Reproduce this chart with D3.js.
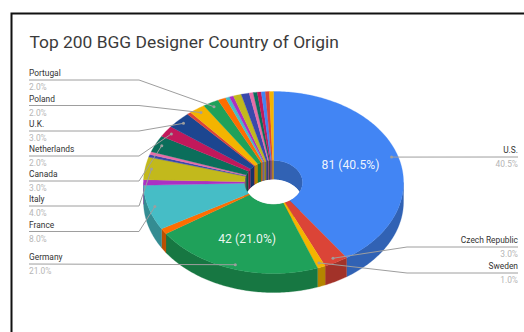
<!DOCTYPE html>
<html>
<head>
<meta charset="utf-8">
<script src="https://cdn.jsdelivr.net/npm/d3@7"></script>
<style>
html,body{margin:0;padding:0;background:#fff;}
svg{display:block;font-family:Roboto,sans-serif;}
</style>
</head>
<body>
<svg id="chart" width="524" height="332"></svg>
<script>
const chartTitle = "Top 200 BGG Designer Country of Origin";
const countries = ["U.S.","Czech Republic","Sweden","Germany","Denmark","France","Spain","Italy","Austria","Belgium","Canada","Netherlands","U.K.","Japan","Poland","Portugal","Australia","Finland","Greece","Israel","Norway","Russia","Switzerland","Hungary","Ukraine","Taiwan","China"];
const designers = [81,6,2,42,2,16,2,8,1,1,6,4,6,1,4,4,2,1,1,2,2,1,1,1,1,1,1];
const sliceColors = ["#4285f4","#db4437","#f4b400","#1fa15a","#ff6d00","#46bdc6","#ab30c4","#c2b91c","#3949ab","#e76ea8","#0b6e5b","#c2185b","#1c4690","#db4437","#f4b400","#1fa15a","#ff6d00","#46bdc6","#ab30c4","#c2b91c","#3949ab","#e76ea8","#0b6e5b","#c2185b","#4285f4","#db4437","#f4b400"];
// Only these slices carry a callout; the rest are too thin to label.
const calloutNames = ["U.S.","Czech Republic","Sweden","Germany","France","Italy","Canada","Netherlands","U.K.","Poland","Portugal"];
const calloutRows = [157,247,273,264,231.5,206,181,156,131,105.5,80];
const insideLabelNames = ["U.S.","Germany"];
const insideLabelReach = [0.62, 0.655];

const svg = d3.select("#chart");
const cx = 273.5, cy = 182.5, rx = 130, ry = 91, depth = 19;
const holeRx = 29, holeRy = 22;
const total = d3.sum(designers);

// Frame around the chart, open on the right and at the bottom edge
svg.append("path")
  .attr("d", "M11.5,332V13.5H524")
  .attr("fill", "none").attr("stroke", "#111").attr("stroke-width", 2);

svg.append("text").text(chartTitle)
  .attr("x", 29.5).attr("y", 47.5)
  .attr("font-size", 17.4).attr("fill", "#3b3b3b");

const pie = d3.pie().sort(null).value(d => d)(designers);
const slices = pie.map((p, i) => ({...p, name: countries[i], color: sliceColors[i]}));

const pt = (a, rxx, ryy, dy = 0) => [cx + rxx * Math.sin(a), cy - ryy * Math.cos(a) + dy];

// Elliptical outline between two angles, sampled so the clockwise sweep is exact
function arcPoints(a0, a1, rxx, ryy, dy = 0) {
  const n = Math.max(2, Math.ceil((a1 - a0) * 60));
  return d3.range(n + 1).map(k => pt(a0 + (a1 - a0) * k / n, rxx, ryy, dy));
}
const line = d3.line();

const darken = c => d3.color(c).darker(0.85).formatHex();

const g = svg.append("g");

// Inner wall of the hole, seen on its far side
slices.forEach(s => {
  const a0 = s.startAngle, a1 = s.endAngle;
  g.append("path")
    .attr("d", line([...arcPoints(a0, a1, holeRx, holeRy), ...arcPoints(a0, a1, holeRx, holeRy, depth).reverse()]) + "Z")
    .attr("fill", darken(s.color)).attr("stroke", darken(s.color)).attr("stroke-width", 0.3);
});

// Clip the hole's near edge to white: the see-through part of the ring
const clipId = "holeClip";
svg.append("defs").append("clipPath").attr("id", clipId)
  .append("ellipse").attr("cx", cx).attr("cy", cy).attr("rx", holeRx).attr("ry", holeRy);
g.append("ellipse")
  .attr("cx", cx).attr("cy", cy + depth).attr("rx", holeRx).attr("ry", holeRy)
  .attr("fill", "#fff").attr("clip-path", `url(#${clipId})`);

// Outer wall of the near half
slices.forEach(s => {
  const a0 = Math.max(s.startAngle, Math.PI / 2), a1 = Math.min(s.endAngle, 3 * Math.PI / 2);
  if (a1 <= a0) return;
  g.append("path")
    .attr("d", line([...arcPoints(a0, a1, rx, ry), ...arcPoints(a0, a1, rx, ry, depth).reverse()]) + "Z")
    .attr("fill", darken(s.color)).attr("stroke", darken(s.color)).attr("stroke-width", 0.3);
});

// Top surface of the ring
slices.forEach(s => {
  const a0 = s.startAngle, a1 = s.endAngle;
  g.append("path")
    .attr("d", line([...arcPoints(a0, a1, rx, ry), ...arcPoints(a0, a1, holeRx, holeRy).reverse()]) + "Z")
    .attr("fill", s.color).attr("stroke", s.color).attr("stroke-width", 0.3);
});

// Callouts: name above the rule, share below it
calloutNames.forEach((name, i) => {
  const s = slices[countries.indexOf(name)];
  const mid = (s.startAngle + s.endAngle) / 2;
  const [dx, dy] = pt(mid, rx * 0.95, ry * 0.95);
  const y = calloutRows[i];
  const right = dx > cx;
  const tx = right ? 518 : 29;
  const elbow = right ? 407 : 139;
  const pts = name === "U.S." || name === "Germany"
    ? [[dx, dy], [tx, y]]
    : [[dx, dy], [elbow, y], [tx, y]];
  svg.append("path").attr("d", line(pts))
    .attr("fill", "none").attr("stroke", "#9e9e9e").attr("stroke-width", 1);
  svg.append("circle").attr("cx", dx).attr("cy", dy).attr("r", 1.5).attr("fill", "#9e9e9e");
  const anchor = right ? "end" : "start";
  svg.append("text").text(name)
    .attr("x", tx).attr("y", y - 4).attr("text-anchor", anchor)
    .attr("font-size", 8.4).attr("fill", "#333");
  svg.append("text").text(d3.format(".1f")(s.value / total * 100) + "%")
    .attr("x", tx).attr("y", y + 10).attr("text-anchor", anchor)
    .attr("font-size", 8.4).attr("fill", "#b5b5b5");
});

// Value labels printed on the two largest slices
insideLabelNames.forEach(name => {
  const s = slices[countries.indexOf(name)];
  const mid = (s.startAngle + s.endAngle) / 2;
  const [tx] = pt(mid, rx * (name === "U.S." ? insideLabelReach[0] : insideLabelReach[1]), ry);
  const [, ty] = pt(mid, rx, ry * insideLabelReach[1]);
  svg.append("text").text(`${s.value} (${d3.format(".1f")(s.value / total * 100)}%)`)
    .attr("x", tx).attr("y", ty + 4).attr("text-anchor", "middle")
    .attr("font-size", 12.2).attr("fill", "#fff").attr("fill-opacity", 0.92);
});
</script>
</body>
</html>
